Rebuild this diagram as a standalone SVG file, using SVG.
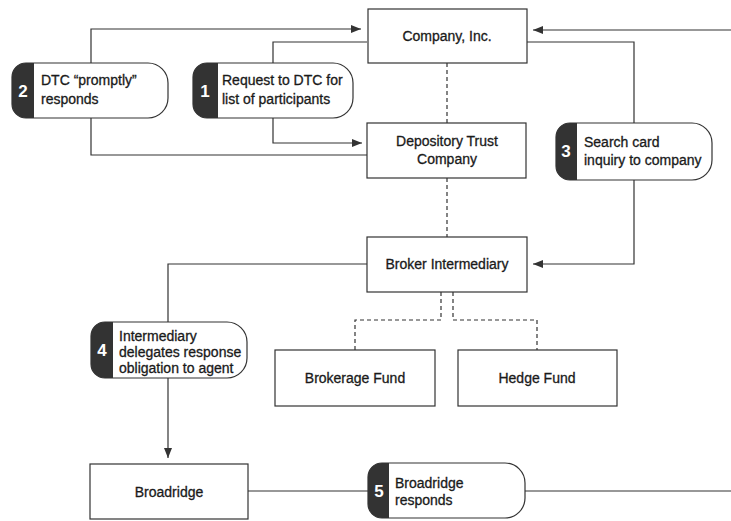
<svg xmlns="http://www.w3.org/2000/svg" width="731" height="521" viewBox="0 0 731 521">
<style>
.box{fill:#fff;stroke:#333;stroke-width:1.2}
.pill{fill:#fff;stroke:#333;stroke-width:1.2}
.tab{fill:#333}
.ln{fill:none;stroke:#333;stroke-width:1.2}
.dash{fill:none;stroke:#333;stroke-width:1.2;stroke-dasharray:4 3}
.t{font-family:"Liberation Sans",Arial,sans-serif;font-size:14px;fill:#1a1a1a;stroke:#1a1a1a;stroke-width:0.3}
.c{text-anchor:middle}
.n{font-family:"Liberation Sans",Arial,sans-serif;font-size:17px;font-weight:bold;fill:#fff;text-anchor:middle}
</style>
<defs>
<marker id="ar" markerUnits="userSpaceOnUse" markerWidth="10" markerHeight="8" refX="10" refY="4" orient="auto">
<path d="M0,0 L10,4 L0,8 Z" fill="#333"/>
</marker>
</defs>
<rect width="731" height="521" fill="#fff"/>
<g id="connectors">
<path class="ln" d="M91,63 V29 H361" marker-end="url(#ar)"/>
<path class="ln" d="M91,118 V155 H367"/>
<path class="ln" d="M273,63 V42 H367"/>
<path class="ln" d="M273,118 V143 H362" marker-end="url(#ar)"/>
<path class="ln" d="M731,30 H533" marker-end="url(#ar)"/>
<path class="ln" d="M527,42 H634 V123"/>
<path class="ln" d="M634,180 V264 H533" marker-end="url(#ar)"/>
<path class="ln" d="M367,264 H168 V322"/>
<path class="ln" d="M168,378 V458" marker-end="url(#ar)"/>
<path class="ln" d="M248,491 H368"/>
<path class="ln" d="M525,491 H731"/>
<path class="dash" d="M447,63 V123"/>
<path class="dash" d="M447,178 V237"/>
<path class="dash" d="M441,292 V320 H355 V350"/>
<path class="dash" d="M453,292 V320 H537 V350"/>
</g>
<g id="company">
<rect class="box" x="368" y="9" width="159" height="54"/>
<text class="t c" x="447" y="41">Company, Inc.</text>
</g>
<g id="dtc">
<rect class="box" x="367" y="123" width="159" height="55"/>
<text class="t c" x="447" y="146">Depository Trust</text>
<text class="t c" x="447" y="164">Company</text>
</g>
<g id="broker">
<rect class="box" x="367" y="237" width="160" height="55"/>
<text class="t c" x="447" y="269">Broker Intermediary</text>
</g>
<g id="brokerage">
<rect class="box" x="275" y="350" width="160" height="56"/>
<text class="t c" x="355" y="383">Brokerage Fund</text>
</g>
<g id="hedge">
<rect class="box" x="458" y="350" width="159" height="56"/>
<text class="t c" x="537" y="383">Hedge Fund</text>
</g>
<g id="broadridge">
<rect class="box" x="90" y="464" width="158" height="55"/>
<text class="t c" x="169" y="497">Broadridge</text>
</g>
<g id="step2">
<path class="pill" d="M26,63 H148 A20,20 0 0 1 168,83 V98 A20,20 0 0 1 148,118 H26 A14,14 0 0 1 12,104 V77 A14,14 0 0 1 26,63 Z"/>
<path class="tab" d="M34,63 H26 A14,14 0 0 0 12,77 V104 A14,14 0 0 0 26,118 H34 Z"/>
<text class="n" x="23" y="97">2</text>
<text class="t" x="41" y="85">DTC “promptly”</text>
<text class="t" x="41" y="104">responds</text>
</g>
<g id="step1">
<path class="pill" d="M207,63 H333 A20,20 0 0 1 353,83 V98 A20,20 0 0 1 333,118 H207 A14,14 0 0 1 193,104 V77 A14,14 0 0 1 207,63 Z"/>
<path class="tab" d="M218,63 H207 A14,14 0 0 0 193,77 V104 A14,14 0 0 0 207,118 H218 Z"/>
<text class="n" x="205" y="97">1</text>
<text class="t" x="222" y="85">Request to DTC for</text>
<text class="t" x="222" y="104">list of participants</text>
</g>
<g id="step3">
<path class="pill" d="M570,123 H692 A20,20 0 0 1 712,143 V160 A20,20 0 0 1 692,180 H570 A14,14 0 0 1 556,166 V137 A14,14 0 0 1 570,123 Z"/>
<path class="tab" d="M577,123 H570 A14,14 0 0 0 556,137 V166 A14,14 0 0 0 570,180 H577 Z"/>
<text class="n" x="566" y="157">3</text>
<text class="t" x="584" y="147">Search card</text>
<text class="t" x="584" y="165">inquiry to company</text>
</g>
<g id="step4">
<path class="pill" d="M105,322 H227 A20,20 0 0 1 247,342 V358 A20,20 0 0 1 227,378 H105 A14,14 0 0 1 91,364 V336 A14,14 0 0 1 105,322 Z"/>
<path class="tab" d="M113,322 H105 A14,14 0 0 0 91,336 V364 A14,14 0 0 0 105,378 H113 Z"/>
<text class="n" x="102" y="356">4</text>
<text class="t" x="119" y="341">Intermediary</text>
<text class="t" x="119" y="357">delegates response</text>
<text class="t" x="119" y="373">obligation to agent</text>
</g>
<g id="step5">
<path class="pill" d="M382,463 H505 A20,20 0 0 1 525,483 V498 A20,20 0 0 1 505,518 H382 A14,14 0 0 1 368,504 V477 A14,14 0 0 1 382,463 Z"/>
<path class="tab" d="M389,463 H382 A14,14 0 0 0 368,477 V504 A14,14 0 0 0 382,518 H389 Z"/>
<text class="n" x="379" y="497">5</text>
<text class="t" x="395" y="488">Broadridge</text>
<text class="t" x="395" y="505">responds</text>
</g>
</svg>
